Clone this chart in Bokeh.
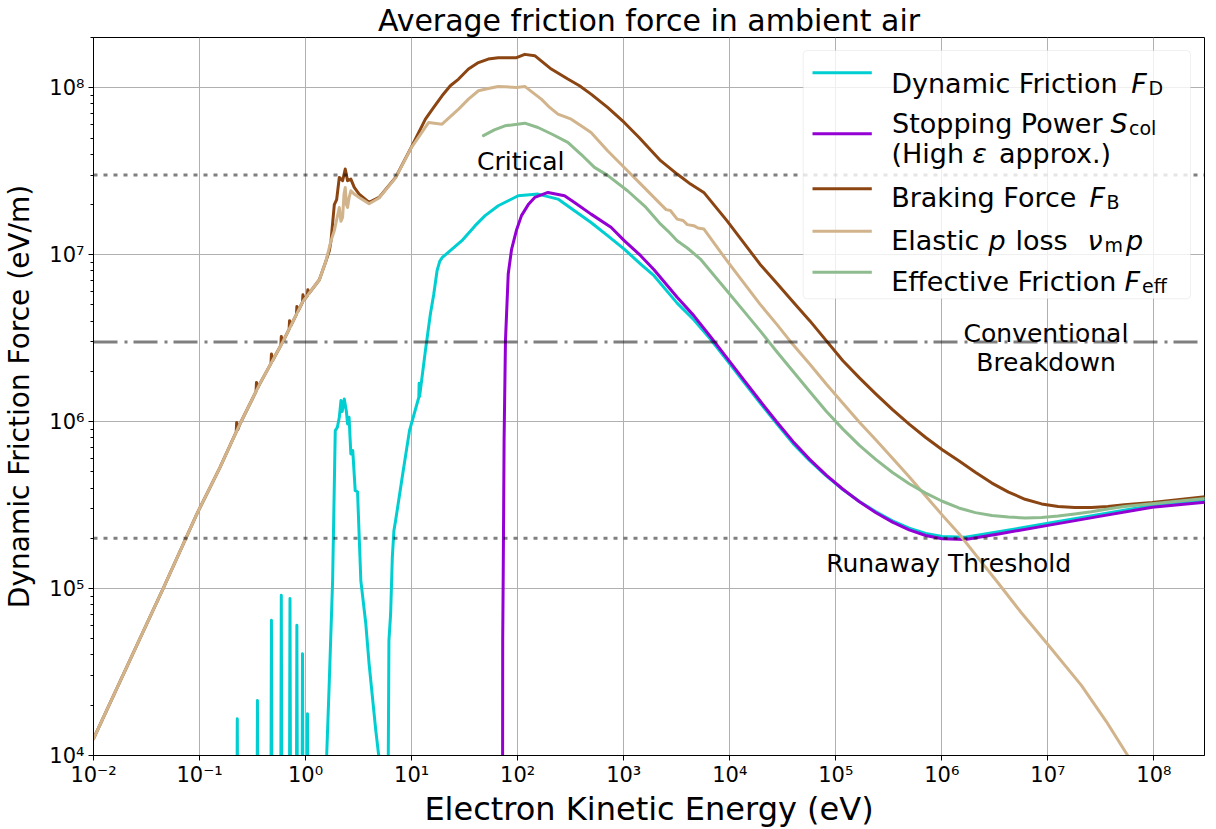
import numpy as np
from bokeh.plotting import figure
from bokeh.models import (Range1d, FixedTicker, CustomJSTickFormatter, Span,
                          Label, BoxAnnotation)
from bokeh.embed import file_html
from bokeh.resources import INLINE

# ---------------- data (log10 of values) ----------------
# Dynamic friction F_D
fd_logE = [-0.656, -0.644, -0.632, -0.466, -0.454, -0.442, -0.334, -0.322, -0.310,
           -0.241, -0.229, -0.217, -0.159, -0.147, -0.135, -0.094, -0.082, -0.070,
           -0.041, -0.029, -0.017, 0.006, 0.018, 0.030,
           0.195, 0.199, 0.224, 0.255, 0.280, 0.300, 0.318, 0.334, 0.345, 0.365,
           0.385, 0.396, 0.410, 0.427, 0.445, 0.468, 0.490, 0.521, 0.568, 0.599,
           0.662, 0.708, 0.740, 0.775, 0.780, 0.786, 0.802, 0.818, 0.833, 0.849,
           0.912, 0.980, 1.068, 1.071, 1.075, 1.130, 1.177, 1.208, 1.240, 1.265,
           1.287, 1.381, 1.474, 1.599, 1.693, 1.817, 2.005, 2.192, 2.380, 2.536,
           2.692, 2.848, 3.005, 3.160, 3.286, 3.504, 3.661, 3.817, 3.973, 4.129,
           4.285, 4.442, 4.598, 4.754, 4.910, 5.067, 5.223, 5.379, 5.535, 5.692,
           5.848, 6.004, 6.222, 6.535, 6.988, 7.473, 7.985, 8.487]
fd_logF = [2.0, 4.22, 2.0, 2.0, 4.33, 2.0, 2.0, 4.81, 2.0,
           2.0, 4.96, 2.0, 2.0, 4.94, 2.0, 2.0, 4.78, 2.0,
           2.0, 4.61, 2.0, 2.0, 4.25, 2.0,
           2.0, 4.0, 4.449, 5.048, 5.946, 5.966, 6.026, 6.126, 6.06, 6.136,
           6.06, 5.986, 6.026, 5.806, 5.826, 5.587, 5.58, 5.048, 4.789, 4.549,
           4.150, 3.9, 3.0, 3.0, 4.0, 4.689, 4.848, 5.187, 5.347, 5.407,
           5.67, 5.946, 6.146, 6.23, 6.15, 6.425, 6.645, 6.76, 6.904, 6.96,
           6.982, 7.033, 7.084, 7.174, 7.234, 7.293, 7.353, 7.363, 7.333, 7.263,
           7.193, 7.114, 7.033, 6.944, 6.874, 6.71, 6.61, 6.495, 6.368, 6.24,
           6.113, 5.988, 5.868, 5.766, 5.675, 5.593, 5.522, 5.460, 5.406, 5.362,
           5.330, 5.312, 5.308, 5.340, 5.390, 5.443, 5.498, 5.530]

# Stopping power S_col (high-energy approximation)
sp_logE = [1.855, 1.859, 1.864, 1.872, 1.885, 1.911, 1.942, 1.990, 2.036, 2.100,
           2.161, 2.286, 2.442, 2.536, 2.692, 2.880, 3.005, 3.160, 3.286, 3.504,
           3.661, 3.817, 3.973, 4.129, 4.285, 4.442, 4.598, 4.754, 4.910, 5.067,
           5.223, 5.379, 5.535, 5.692, 5.848, 6.004, 6.222, 6.535, 6.988, 7.473,
           7.985, 8.487]
sp_logF = [2.0, 4.7, 5.1, 5.886, 6.485, 6.884, 7.03, 7.15, 7.234, 7.30,
           7.343, 7.373, 7.353, 7.313, 7.243, 7.164, 7.084, 6.994, 6.91, 6.745,
           6.635, 6.51, 6.382, 6.253, 6.125, 5.999, 5.88, 5.774, 5.680, 5.595,
           5.520, 5.454, 5.398, 5.352, 5.318, 5.298, 5.294, 5.327, 5.377, 5.431,
           5.487, 5.517]

# Braking force F_B
fb_logE = [-2.0, -1.557, -1.337, -1.025, -0.807,
           -0.654, -0.650, -0.640, -0.619,
           -0.467, -0.463, -0.453, -0.432,
           -0.326, -0.322, -0.312,
           -0.233, -0.229, -0.219, -0.213,
           -0.155, -0.151, -0.141,
           -0.086, -0.082, -0.072,
           -0.029, -0.025, -0.015,
           0.017, 0.021, 0.031,
           0.130, 0.193, 0.224, 0.240, 0.271, 0.293, 0.318, 0.349, 0.374, 0.396,
           0.427, 0.459, 0.505, 0.599, 0.693, 0.849, 0.996, 1.130, 1.208, 1.287,
           1.365, 1.443, 1.536, 1.630, 1.723, 1.817, 1.989, 2.067, 2.161, 2.239,
           2.317, 2.395, 2.473, 2.583, 2.692, 2.848, 3.005, 3.145, 3.348,
           3.504, 3.630, 3.755, 3.973, 4.129, 4.285, 4.442, 4.598, 4.754, 4.910,
           5.067, 5.223, 5.379, 5.535, 5.692, 5.848, 6.004, 6.160, 6.316, 6.472,
           6.629, 6.785, 6.941, 7.097, 7.253, 7.410, 7.566, 7.722, 7.985, 8.487]
fb_logF = [4.10, 4.708, 5.008, 5.447, 5.726,
           5.938, 5.995, 5.951, 5.986,
           6.181, 6.235, 6.199, 6.226,
           6.349, 6.405, 6.365,
           6.457, 6.51, 6.473, 6.48,
           6.554, 6.605, 6.572,
           6.642, 6.69, 6.660,
           6.715, 6.76, 6.728,
           6.755, 6.79, 6.767,
           6.85, 6.964, 7.024, 7.084, 7.30, 7.33, 7.463, 7.443, 7.513, 7.443,
           7.453, 7.403, 7.363, 7.313, 7.343, 7.463, 7.642, 7.812, 7.882, 7.952,
           8.012, 8.052, 8.112, 8.151, 8.172, 8.180, 8.180, 8.200, 8.192, 8.152,
           8.112, 8.082, 8.052, 8.012, 7.962, 7.882, 7.792, 7.702, 7.563,
           7.483, 7.423, 7.373, 7.204, 7.074, 6.943, 6.830, 6.716, 6.605, 6.485,
           6.365, 6.262, 6.165, 6.072, 5.985, 5.905, 5.832, 5.766, 5.697, 5.632,
           5.578, 5.535, 5.507, 5.492, 5.485, 5.486, 5.492, 5.502, 5.515, 5.550]

# Elastic momentum loss nu_m p
el_logE = [-2.0, -1.557, -1.337, -1.025, -0.807, -0.619, -0.432, -0.213, -0.025, 0.130,
           0.193, 0.240, 0.271, 0.290, 0.318, 0.333, 0.349, 0.362, 0.374, 0.385,
           0.396, 0.410, 0.427, 0.459, 0.505, 0.599, 0.693, 0.849, 0.996, 1.161,
           1.287, 1.443, 1.536, 1.630, 1.723, 1.817, 1.989, 2.067, 2.223, 2.302,
           2.380, 2.505, 2.598, 2.692, 2.848, 3.036, 3.145, 3.348, 3.400, 3.440,
           3.504, 3.560, 3.600, 3.661, 3.700, 3.755, 3.973, 4.129, 4.285, 4.442,
           4.598, 4.754, 4.910, 5.067, 5.223, 5.379, 5.535, 5.692, 5.848, 6.004,
           6.160, 6.316, 6.535, 6.750, 7.000, 7.316, 7.550, 7.753, 8.000]
el_logF = [4.10, 4.708, 5.008, 5.447, 5.726, 5.986, 6.226, 6.48, 6.72, 6.85,
           6.964, 7.084, 7.144, 7.20, 7.283, 7.20, 7.223, 7.36, 7.403, 7.30,
           7.283, 7.34, 7.383, 7.363, 7.343, 7.305, 7.34, 7.46, 7.64, 7.792,
           7.782, 7.872, 7.932, 7.982, 7.996, 8.008, 8.002, 8.008, 7.932, 7.882,
           7.842, 7.812, 7.772, 7.732, 7.623, 7.503, 7.433, 7.303, 7.27, 7.265,
           7.213, 7.205, 7.18, 7.174, 7.16, 7.154, 6.964, 6.834, 6.704, 6.584,
           6.46, 6.345, 6.225, 6.11, 5.996, 5.89, 5.78, 5.67, 5.555, 5.44,
           5.33, 5.205, 5.03, 4.855, 4.665, 4.42, 4.205, 4.0, 3.72]

# Effective friction F_eff
fe_logE = [1.677, 1.780, 1.880, 2.067, 2.192, 2.330, 2.473, 2.600, 2.724, 2.848,
           3.036, 3.200, 3.348, 3.420, 3.504, 3.600, 3.723, 3.973, 4.129, 4.285,
           4.442, 4.598, 4.754, 4.910, 5.067, 5.223, 5.379, 5.535, 5.692, 5.848,
           6.004, 6.160, 6.316, 6.472, 6.629, 6.785, 6.941, 7.097, 7.253, 7.410,
           7.566, 7.722, 7.985, 8.487]
fe_logF = [7.713, 7.748, 7.772, 7.788, 7.762, 7.72, 7.673, 7.60, 7.523, 7.475,
           7.383, 7.29, 7.183, 7.14, 7.084, 7.04, 6.974, 6.784, 6.665, 6.545,
           6.42, 6.30, 6.18, 6.062, 5.955, 5.858, 5.772, 5.695, 5.628, 5.572,
           5.523, 5.483, 5.455, 5.438, 5.428, 5.423, 5.426, 5.435, 5.447, 5.460,
           5.477, 5.492, 5.508, 5.540]

# reference field levels (eV/m)
critical_level = 3e7
breakdown_level = 3e6
runaway_level = 2e5

x_major = [1e-2, 1e-1, 1e0, 1e1, 1e2, 1e3, 1e4, 1e5, 1e6, 1e7, 1e8]
y_major = [1e4, 1e5, 1e6, 1e7, 1e8]
y_minor = [k * 10.0 ** n for n in range(4, 9) for k in range(2, 10)]

series = [
    ("Dynamic Friction", fd_logE, fd_logF, "#00CED1"),
    ("Stopping Power", sp_logE, sp_logF, "#9400D3"),
    ("Braking Force", fb_logE, fb_logF, "#8B4513"),
    ("Elastic p loss", el_logE, el_logF, "#D2B48C"),
    ("Effective Friction", fe_logE, fe_logF, "#8FBC8F"),
]

FONT = "DejaVu Sans"

# ---------------- figure ----------------
p = figure(x_axis_type="log", y_axis_type="log",
           x_range=Range1d(1e-2, 3e8), y_range=Range1d(1e4, 2e8),
           frame_width=1111, frame_height=718,
           min_border_left=88, min_border_right=1, min_border_top=27,
           min_border_bottom=60,
           output_backend="svg", toolbar_location=None)
p.background_fill_color = "white"
p.border_fill_color = "white"
p.outline_line_color = "black"
p.outline_line_width = 1

p.title.text = "Average friction force in ambient air"
p.title.align = "center"
p.title.text_font = FONT
p.title.text_font_size = "30px"
p.title.text_font_style = "normal"
p.title.text_color = "black"
p.title.standoff = 0

sup_js = """
const m = {"-":"\u207b","0":"\u2070","1":"\u00b9","2":"\u00b2","3":"\u00b3",
           "4":"\u2074","5":"\u2075","6":"\u2076","7":"\u2077","8":"\u2078","9":"\u2079"};
const e = Math.round(Math.log10(tick));
let s = "";
for (const c of String(e)) { s += m[c]; }
return "10" + s;
"""

p.xaxis.ticker = FixedTicker(ticks=x_major, minor_ticks=[])
p.yaxis.ticker = FixedTicker(ticks=y_major, minor_ticks=y_minor)
for ax in (p.xaxis[0], p.yaxis[0]):
    ax.formatter = CustomJSTickFormatter(code=sup_js)
    ax.major_label_text_font = FONT
    ax.major_label_text_font_size = "21px"
    ax.major_label_text_color = "black"
    ax.axis_label_text_font = FONT
    ax.axis_label_text_font_style = "normal"
    ax.axis_label_text_color = "black"
    ax.axis_line_color = "black"
    ax.major_tick_line_color = "black"
    ax.minor_tick_line_color = "black"
    ax.major_tick_out = 5
    ax.major_tick_in = 0
    ax.minor_tick_out = 3
    ax.minor_tick_in = 0
p.xaxis.axis_label_text_font_size = "32px"
p.yaxis.axis_label_text_font_size = "28px"
p.xaxis.major_label_standoff = 2
p.yaxis.major_label_standoff = 4
p.xaxis.axis_label = "Electron Kinetic Energy (eV)"
p.yaxis.axis_label = "Dynamic Friction Force (eV/m)"
p.xaxis.axis_label_standoff = 0
p.yaxis.axis_label_standoff = 10

p.xgrid.ticker = FixedTicker(ticks=x_major, minor_ticks=[])
p.ygrid.ticker = FixedTicker(ticks=y_major, minor_ticks=[])
p.grid.grid_line_color = "#b0b0b0"
p.grid.grid_line_width = 1

for name, le, lf, col in series:
    p.line(np.power(10.0, le), np.power(10.0, lf), line_color=col, line_width=3,
           line_join="round", line_cap="round")

# horizontal reference levels
p.add_layout(Span(location=critical_level, dimension="width", line_color="black",
                  line_alpha=0.5, line_width=3, line_dash="4 6"))
p.add_layout(Span(location=breakdown_level, dimension="width", line_color="black",
                  line_alpha=0.5, line_width=3, line_dash="24 7 3 6"))
p.add_layout(Span(location=runaway_level, dimension="width", line_color="black",
                  line_alpha=0.5, line_width=3, line_dash="4 6"))

def dlabel(x, y, text, align="center"):
    p.add_layout(Label(x=x, y=y, text=text, text_font=FONT,
                       text_font_size="25px", text_align=align,
                       text_baseline="alphabetic", text_color="black"))

dlabel(107, 3.6e7, "Critical")
dlabel(9.6e6, 3.35e6, "Conventional")
dlabel(9.6e6, 2.26e6, "Breakdown")
dlabel(1.16e6, 1.41e5, "Runaway Threshold")

# ---------------- legend (drawn in screen units, relative to the frame) ----
FRAME_L, FRAME_B, SHIFT = 96, 755, 7

def sx(px):
    return px - SHIFT - FRAME_L

def sy(py):
    return FRAME_B - py

p.add_layout(BoxAnnotation(left=sx(812.7), right=sx(1200), top=sy(50), bottom=sy(298.3),
                           left_units="screen", right_units="screen",
                           top_units="screen", bottom_units="screen",
                           fill_color="white", fill_alpha=0.8,
                           line_color="#cccccc", line_width=1, border_radius=4))

sample_y = [72.3, 133.3, 188.3, 230.7, 271.7]
for (name, le, lf, col), yy in zip(series, sample_y):
    p.add_layout(BoxAnnotation(left=sx(822), right=sx(881.3), top=sy(yy - 1.5),
                               bottom=sy(yy + 1.5),
                               left_units="screen", right_units="screen",
                               top_units="screen", bottom_units="screen",
                               fill_color=col, fill_alpha=1.0, line_color=None))

LEG = 27
SUB = 19
rows = [
    [("Dynamic Friction", 900.7, 83.3, LEG, "normal"),
     ("F", 1140.7, 83.3, LEG, "italic"),
     ("D", 1158.0, 87.6, SUB, "normal")],
    [("Stopping Power", 901.5, 123.3, LEG, "normal"),
     ("S", 1120.0, 123.3, LEG, "italic"),
     ("col", 1138.5, 127.6, SUB, "normal")],
    [("(High", 901.0, 153.3, LEG, "normal"),
     ("\u03b5", 981.8, 153.3, LEG, "italic"),
     ("approx.)", 1008.4, 153.3, LEG, "normal")],
    [("Braking Force", 900.7, 196.7, LEG, "normal"),
     ("F", 1099.1, 196.7, LEG, "italic"),
     ("B", 1116.0, 201.0, SUB, "normal")],
    [("Elastic", 900.7, 240.0, LEG, "normal"),
     ("p", 998.0, 240.0, LEG, "italic"),
     ("loss", 1025.0, 240.0, LEG, "normal"),
     ("\u03bd", 1097.0, 240.0, LEG, "italic"),
     ("m", 1114.0, 244.3, SUB, "normal"),
     ("p", 1135.5, 240.0, LEG, "italic")],
    [("Effective Friction", 900.7, 281.3, LEG, "normal"),
     ("F", 1134.1, 281.3, LEG, "italic"),
     ("eff", 1151.5, 285.6, SUB, "normal")],
]
for row in rows:
    for text, px, py, size, style in row:
        p.add_layout(Label(x=sx(px), y=sy(py), x_units="screen", y_units="screen",
                           text=text, text_font=FONT,
                           text_font_size=f"{size}px", text_font_style=style,
                           text_align="left", text_baseline="alphabetic",
                           text_color="black"))

open("out.html", "w").write(file_html(p, INLINE))
